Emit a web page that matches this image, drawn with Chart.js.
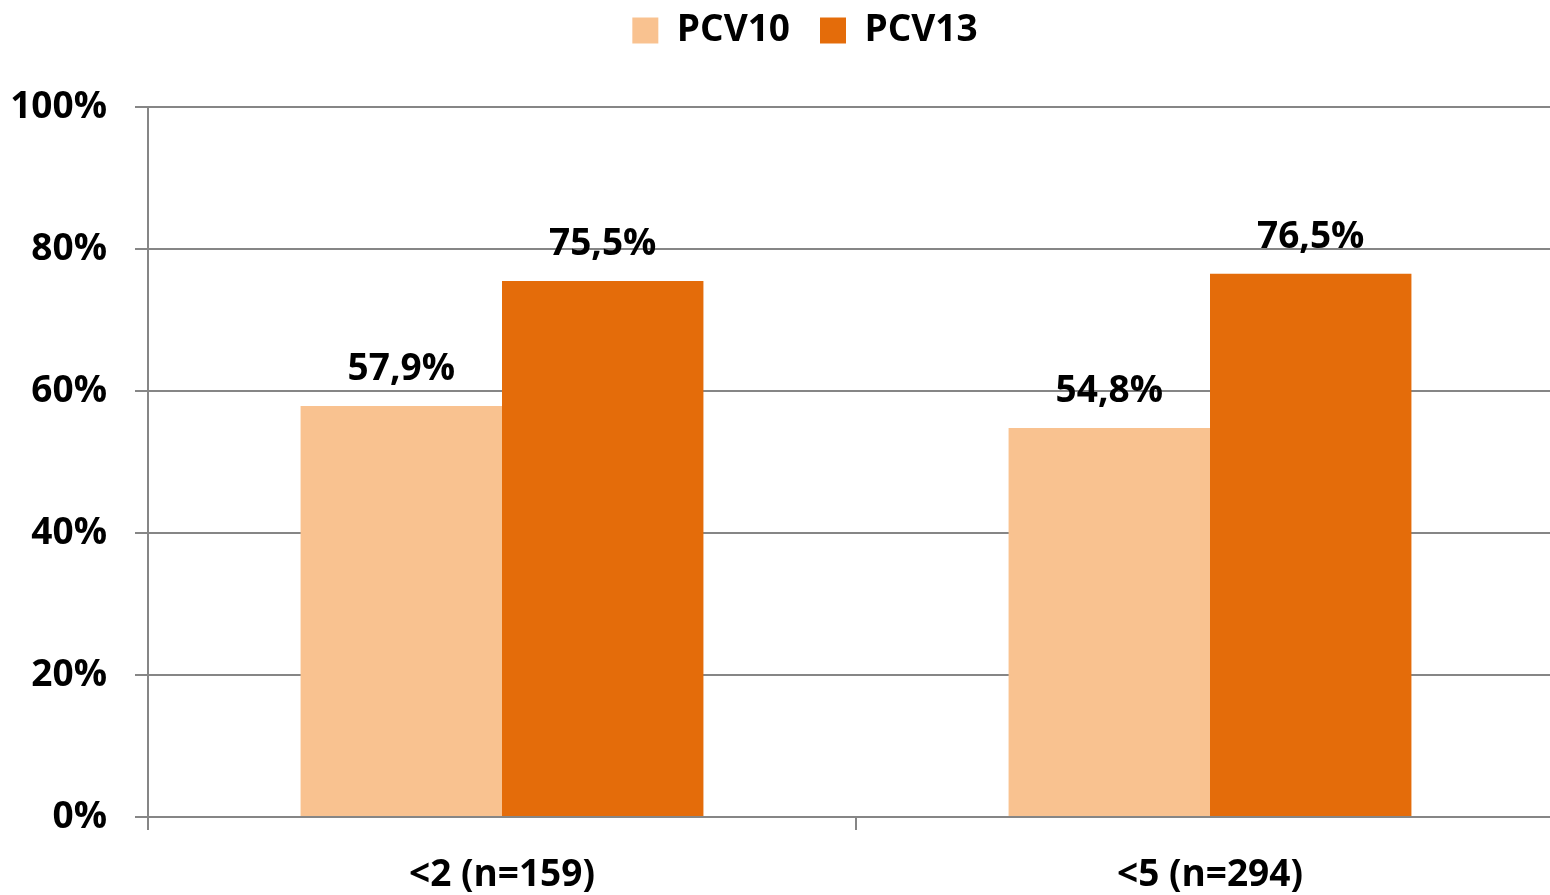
<!DOCTYPE html>
<html>
<head>
<meta charset="utf-8">
<script src="https://cdn.jsdelivr.net/npm/chart.js@4"></script>
<style>
  html, body { margin: 0; padding: 0; overflow: hidden; background: #fff; }
  #wrap { width: 1610px; height: 895px; }
</style>
</head>
<body>
<div id="wrap"><canvas id="myChart" width="1610" height="895"></canvas></div>
<script>
"use strict";

const categories = ['<2 (n=159)', '<5 (n=294)'];
const pcv10 = [57.9, 54.8];
const pcv13 = [75.5, 76.5];
const yTicks = [0, 20, 40, 60, 80, 100];

const FONT = '"Open Sans", Lato, sans-serif';
const FSIZE = 37;
const GRID = '#868686';

// draws the value above each bar, with a decimal comma
const barLabels = {
  id: 'barLabels',
  afterDatasetsDraw(chart) {
    const ctx = chart.ctx;
    ctx.save();
    ctx.font = 'bold ' + FSIZE + 'px ' + FONT;
    ctx.fillStyle = '#000';
    ctx.textAlign = 'center';
    ctx.textBaseline = 'alphabetic';
    chart.data.datasets.forEach((ds, i) => {
      chart.getDatasetMeta(i).data.forEach((bar, j) => {
        const txt = ds.data[j].toFixed(1).replace('.', ',') + '%';
        ctx.fillText(txt, bar.x, bar.y - 26);
      });
    });
    ctx.restore();
  }
};

// extra room under the legend
const legendGap = {
  id: 'legendGap',
  beforeInit(chart) {
    const orig = chart.legend.fit;
    chart.legend.fit = function () {
      orig.call(this);
      this.height += 48;
    };
  }
};

const ctx = document.getElementById('myChart').getContext('2d');
const myChart = new Chart(ctx, {
  type: 'bar',
  data: {
    labels: categories,
    datasets: [{
      label: 'PCV10',
      data: pcv10,
      backgroundColor: '#F9C290',
      categoryPercentage: 0.569,
      barPercentage: 1.0
    }, {
      label: 'PCV13',
      data: pcv13,
      backgroundColor: '#E46C0A',
      categoryPercentage: 0.569,
      barPercentage: 1.0
    }]
  },
  options: {
    responsive: false,
    animation: false,
    layout: { padding: { top: -18, left: 0, right: 0, bottom: 0 } },
    plugins: {
      legend: {
        display: true,
        position: 'top',
        labels: {
          boxWidth: 26,
          boxHeight: 26,
          padding: 30,
          color: '#000',
          font: { family: FONT, size: FSIZE, weight: 'bold' }
        }
      },
      tooltip: { enabled: false }
    },
    scales: {
      x: {
        afterFit: s => { s.height = 78; },
        grid: {
          offset: true,
          drawOnChartArea: false,
          drawTicks: true,
          tickLength: 13,
          color: GRID,
          lineWidth: 2
        },
        border: { color: GRID, width: 2 },
        ticks: {
          color: '#000',
          padding: 23,
          font: { family: FONT, size: FSIZE, weight: 'bold' }
        }
      },
      y: {
        min: 0,
        max: 100,
        afterFit: s => { s.width = 148; },
        afterBuildTicks: s => { s.ticks = yTicks.map(v => ({ value: v })); },
        grid: {
          color: GRID,
          lineWidth: 2,
          tickLength: 13
        },
        border: { color: GRID, width: 2 },
        ticks: {
          color: '#000',
          padding: 28,
          font: { family: FONT, size: FSIZE, weight: 'bold' },
          callback: v => v + '%'
        }
      },
      pad: {
        position: 'right',
        display: true,
        afterFit: s => { s.width = 46; },
        grid: { display: false },
        border: { display: false },
        ticks: { display: false }
      }
    }
  },
  plugins: [legendGap, barLabels]
});
</script>
</body>
</html>
